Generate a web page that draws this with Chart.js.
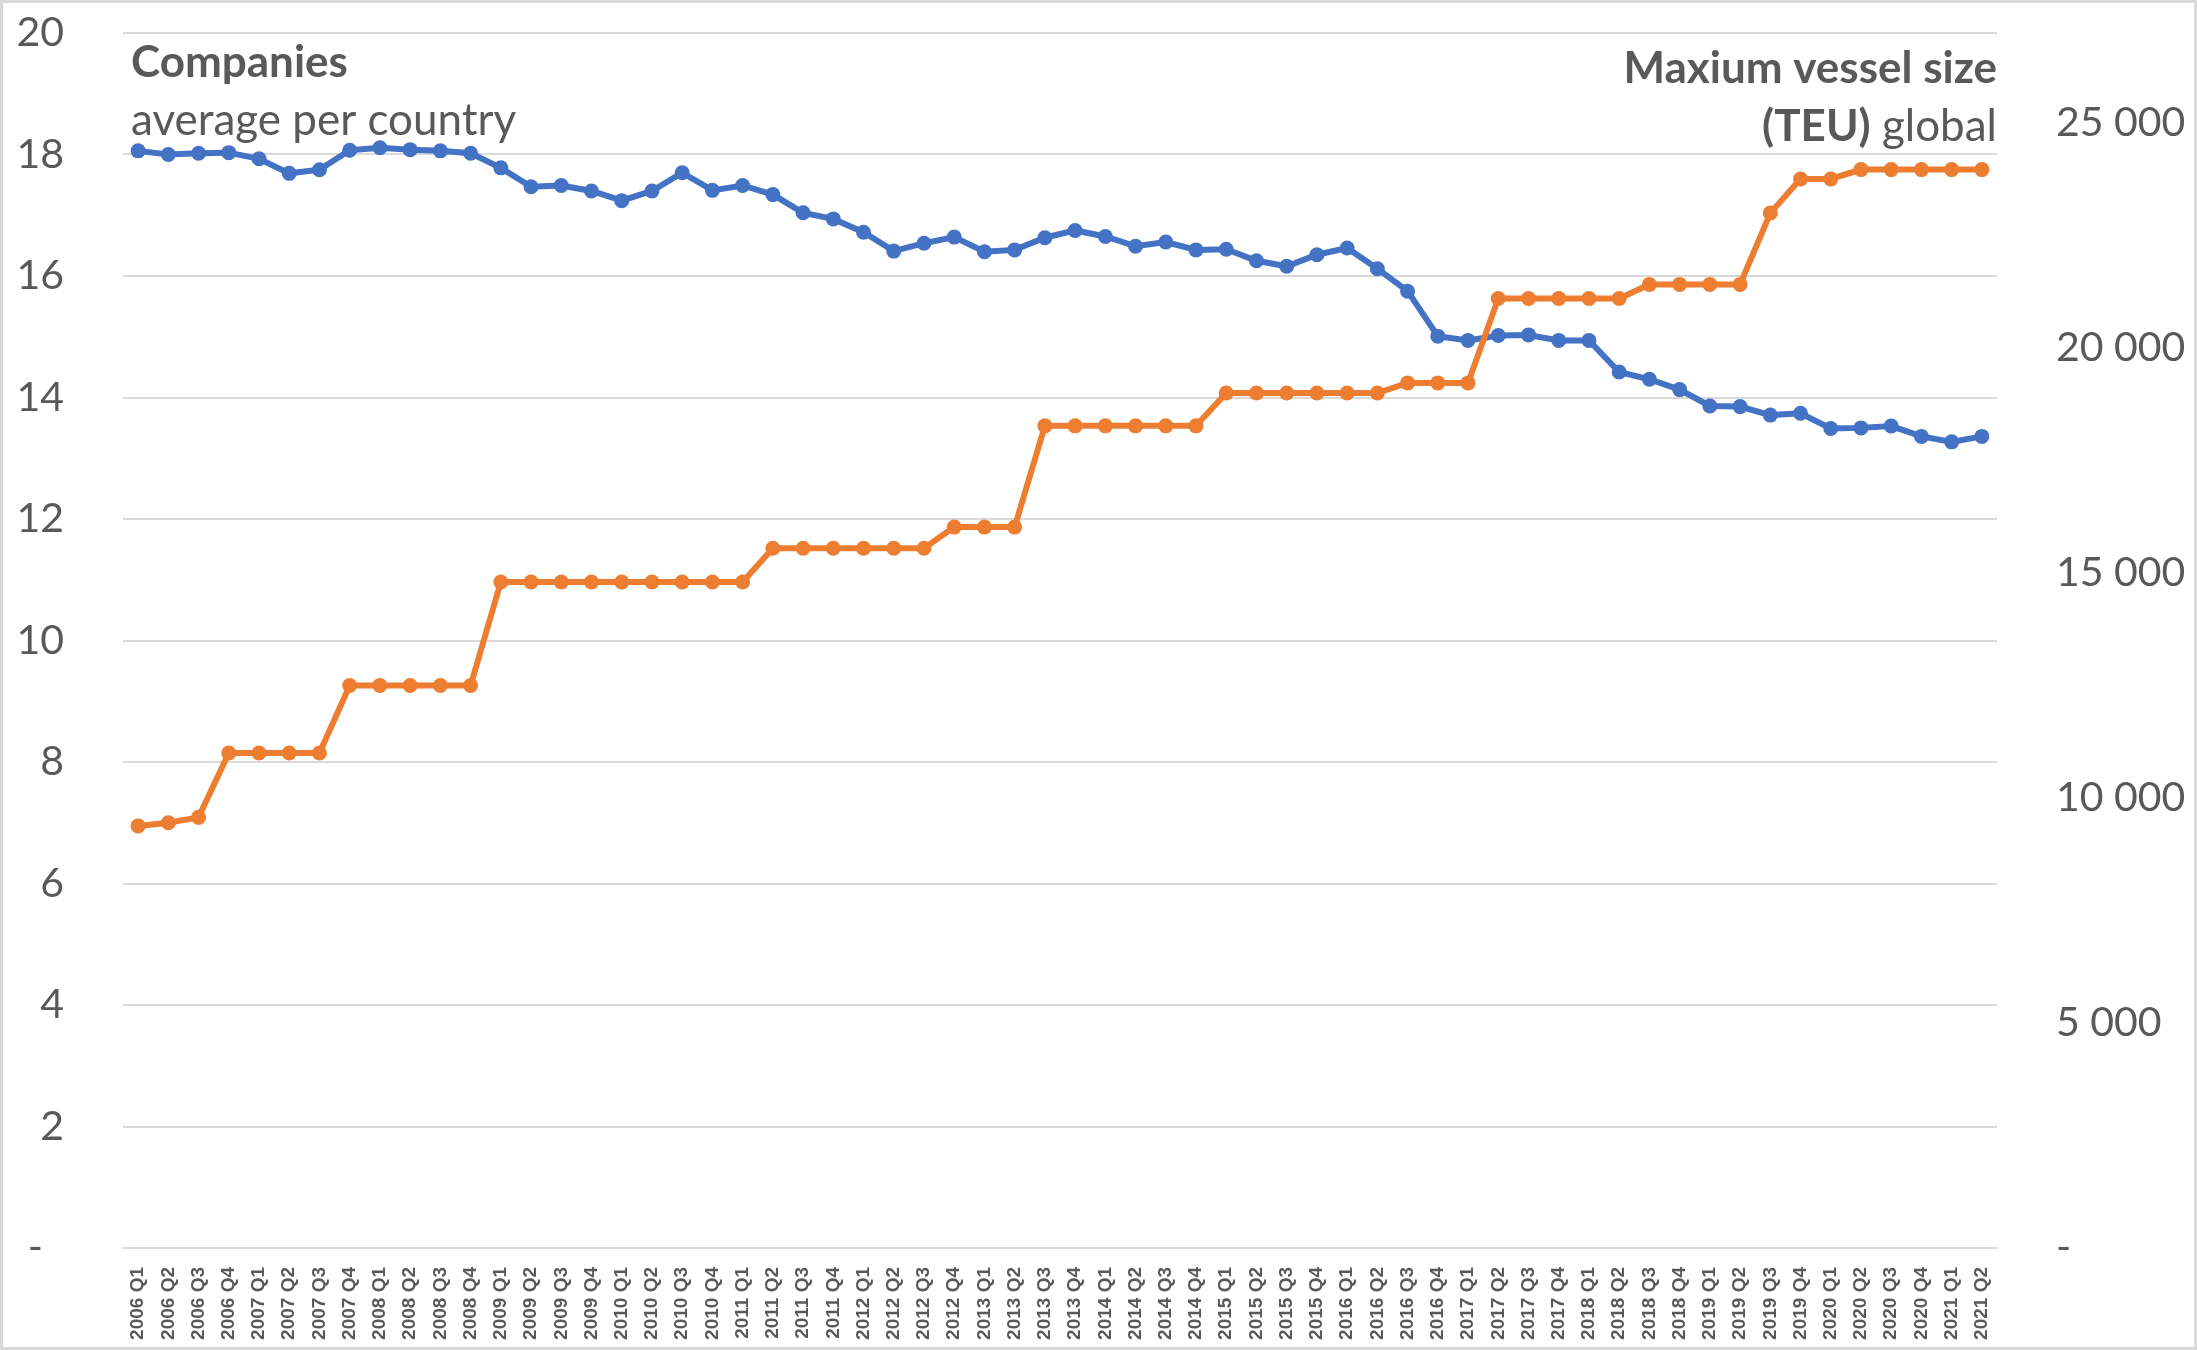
<!DOCTYPE html>
<html><head><meta charset="utf-8">
<script src="https://cdn.jsdelivr.net/npm/chart.js@4/dist/chart.umd.min.js"></script>
<style>html,body{margin:0;padding:0;background:#fff;overflow:hidden}#wrap{width:2197px;height:1350px;position:relative}</style>
</head><body><div id="wrap"><canvas id="c" width="2197" height="1350"></canvas></div>
<script>
const categories = [
 "2006 Q1","2006 Q2","2006 Q3","2006 Q4","2007 Q1","2007 Q2","2007 Q3","2007 Q4",
 "2008 Q1","2008 Q2","2008 Q3","2008 Q4","2009 Q1","2009 Q2","2009 Q3","2009 Q4",
 "2010 Q1","2010 Q2","2010 Q3","2010 Q4","2011 Q1","2011 Q2","2011 Q3","2011 Q4",
 "2012 Q1","2012 Q2","2012 Q3","2012 Q4","2013 Q1","2013 Q2","2013 Q3","2013 Q4",
 "2014 Q1","2014 Q2","2014 Q3","2014 Q4","2015 Q1","2015 Q2","2015 Q3","2015 Q4",
 "2016 Q1","2016 Q2","2016 Q3","2016 Q4","2017 Q1","2017 Q2","2017 Q3","2017 Q4",
 "2018 Q1","2018 Q2","2018 Q3","2018 Q4","2019 Q1","2019 Q2","2019 Q3","2019 Q4",
 "2020 Q1","2020 Q2","2020 Q3","2020 Q4","2021 Q1","2021 Q2"];
const companiesPerCountry = [
 18.06,18.00,18.02,18.03,17.93,17.69,17.75,18.07,
 18.11,18.08,18.06,18.02,17.78,17.47,17.49,17.40,
 17.24,17.40,17.70,17.41,17.49,17.34,17.04,16.94,
 16.72,16.41,16.54,16.64,16.40,16.43,16.63,16.75,
 16.65,16.49,16.56,16.43,16.44,16.25,16.16,16.35,
 16.46,16.12,15.75,15.01,14.94,15.02,15.03,14.94,
 14.94,14.42,14.30,14.13,13.86,13.85,13.71,13.74,
 13.49,13.50,13.53,13.36,13.27,13.36];
const maxVesselTEU = [
 9380,9450,9570,11000,11000,11000,11000,12500,
 12500,12500,12500,12500,14800,14800,14800,14800,
 14800,14800,14800,14800,14800,15550,15550,15550,
 15550,15550,15550,16020,16020,16020,18270,18270,
 18270,18270,18270,18270,19000,19000,19000,19000,
 19000,19000,19224,19224,19224,21100,21100,21100,
 21100,21100,21413,21413,21413,21413,23000,23756,
 23756,23964,23964,23964,23964,23964];
const leftTicks = [0,2,4,6,8,10,12,14,16,18,20];
const rightTicks = [0,5000,10000,15000,20000,25000];

const TXT = '#595959';
const FONT = 'Lato';
const NOTE = 44;

const fmtSpace = v => v === 0 ? '-' : String(v).replace(/\B(?=(\d{3})+(?!\d))/g, ' ');

const borderPlugin = {
  id: 'frame',
  beforeDraw(chart) {
    const c = chart.ctx;
    c.save();
    c.fillStyle = '#fff';
    c.fillRect(0, 0, chart.width, chart.height);
    c.strokeStyle = '#D9D9D9';
    c.lineWidth = 3;
    c.strokeRect(1.5, 1.5, chart.width - 3, chart.height - 3);
    c.restore();
  }
};

const notesPlugin = {
  id: 'notes',
  afterDraw(chart) {
    const c = chart.ctx, a = chart.chartArea;
    c.save();
    c.fillStyle = TXT;
    c.textBaseline = 'alphabetic';
    c.textAlign = 'left';
    c.font = 'bold ' + NOTE + 'px ' + FONT;
    c.fillText('Companies', a.left + 8, 77);
    c.font = NOTE + 'px ' + FONT;
    c.fillText('average per country', a.left + 8, 135);
    c.textAlign = 'right';
    c.font = 'bold ' + NOTE + 'px ' + FONT;
    c.fillText('Maxium vessel size', a.right, 83);
    c.font = NOTE + 'px ' + FONT;
    const g = ' global';
    c.fillText(g, a.right, 141);
    const gw = c.measureText(g).width;
    c.font = 'bold ' + NOTE + 'px ' + FONT;
    c.fillText('(TEU)', a.right - gw, 141);
    c.restore();
  }
};

function noPad(s) { s.paddingTop = 0; s.paddingBottom = 0; }

new Chart(document.getElementById('c'), {
  type: 'line',
  data: {
    labels: categories,
    datasets: [
      { label: 'Companies average per country', data: companiesPerCountry, yAxisID: 'y', order: 2,
        borderColor: '#4472C4', backgroundColor: '#4472C4', borderWidth: 6,
        pointRadius: 7.5, pointBorderWidth: 0, pointBackgroundColor: '#4472C4', tension: 0 },
      { label: 'Maxium vessel size (TEU) global', data: maxVesselTEU, yAxisID: 'y1', order: 1,
        borderColor: '#ED7D31', backgroundColor: '#ED7D31', borderWidth: 6,
        pointRadius: 7.5, pointBorderWidth: 0, pointBackgroundColor: '#ED7D31', tension: 0 }
    ]
  },
  options: {
    responsive: false, animation: false, devicePixelRatio: 1,
    layout: { padding: { top: 33, left: 0, right: 0, bottom: 0 } },
    plugins: { legend: { display: false }, tooltip: { enabled: false } },
    scales: {
      x: {
        offset: true,
        grid: { display: false, drawTicks: false },
        border: { display: false },
        ticks: { autoSkip: false, minRotation: 90, maxRotation: 90, padding: 19,
          font: { family: 'Liberation Sans', size: 19, weight: 'bold' }, color: TXT },
        afterFit(s) { s.height = 102; s.paddingLeft = 0; s.paddingRight = 0; }
      },
      y: {
        position: 'left', min: 0, max: 20,
        afterBuildTicks(s) { s.ticks = leftTicks.map(v => ({ value: v })); },
        grid: { color: '#D9D9D9', lineWidth: 2, drawTicks: false },
        border: { display: false },
        ticks: { padding: 59, color: TXT, font: { family: FONT, size: 41 },
          callback: v => v === 0 ? '-  ' : String(v) },
        afterFit(s) { s.width = 123; noPad(s); }
      },
      y1: {
        position: 'right', min: 0, max: 27000,
        afterBuildTicks(s) { s.ticks = rightTicks.map(v => ({ value: v })); },
        grid: { display: false, drawTicks: false },
        border: { display: false },
        ticks: { padding: 59, color: TXT, font: { family: FONT, size: 41 },
          callback: v => fmtSpace(v) },
        afterFit(s) { s.width = 200; noPad(s); }
      }
    }
  },
  plugins: [borderPlugin, notesPlugin]
});
</script></body></html>
